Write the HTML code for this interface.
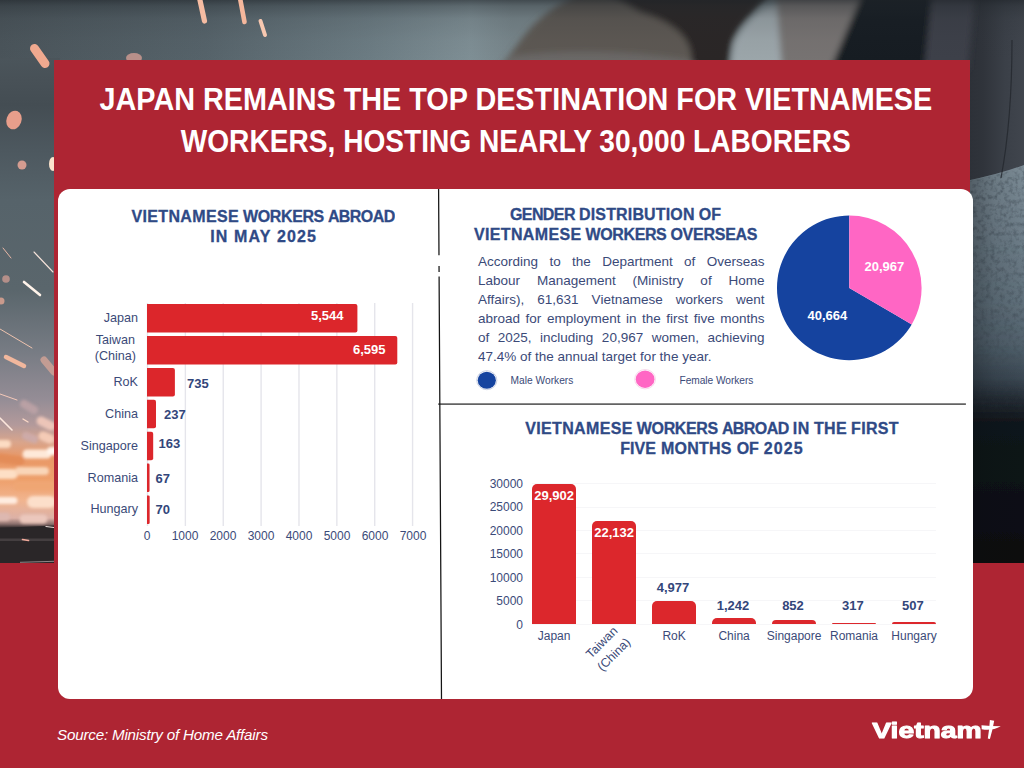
<!DOCTYPE html>
<html lang="en">
<head>
<meta charset="utf-8">
<title>Japan remains the top destination for Vietnamese workers</title>
<style>
*{box-sizing:border-box;margin:0;padding:0}
html,body{width:1024px;height:768px;overflow:hidden;background:#3c444a}
body{font-family:"Liberation Sans",sans-serif;position:relative;color:#34487d}
.abs{position:absolute}
.nw{white-space:nowrap}
#bg{position:absolute;left:0;top:0;width:1024px;height:768px}
#band{position:absolute;left:0;top:563px;width:1024px;height:205px;background:#ae2533}
#hdr{position:absolute;left:54.4px;top:60.3px;width:915.6px;height:707.7px;background:#ae2533}
#panel{position:absolute;left:57.6px;top:188.8px;width:915.4px;height:510.2px;background:#fff;border-radius:12px}
h1{position:absolute;left:54px;width:916px;text-align:center;color:#fff;font-weight:bold;font-size:30.7px;line-height:36px;white-space:nowrap}
h1 span{display:inline-block;transform-origin:50% 50%}
h2{position:absolute;text-align:center;font-weight:bold;font-size:16px;line-height:18px;white-space:nowrap;color:#2f4a86;transform:scaleY(1.06);transform-origin:50% 50%;-webkit-text-stroke:0.3px #2f4a86}
.cat{position:absolute;font-size:12px;line-height:14px;color:#3b4a78;white-space:nowrap}
.val{position:absolute;font-size:13px;line-height:15px;font-weight:bold;color:#33467a;white-space:nowrap}
.val.w{color:#fff}
.bar{position:absolute;background:#dc272c}
.grid{position:absolute;background:#e7e7ea}
</style>
</head>
<body>
<svg id="bg" viewBox="0 0 1024 768">
<defs>
<linearGradient id="gL" gradientUnits="userSpaceOnUse" x1="0" y1="58" x2="0" y2="566">
<stop offset="0.0000" stop-color="#4b555b"/><stop offset="0.0433" stop-color="#485157"/><stop offset="0.0925" stop-color="#444d53"/><stop offset="0.1811" stop-color="#4d585f"/><stop offset="0.2795" stop-color="#56636a"/><stop offset="0.4567" stop-color="#5a666c"/><stop offset="0.5748" stop-color="#767b83"/><stop offset="0.6732" stop-color="#958d96"/><stop offset="0.7224" stop-color="#b39a9b"/><stop offset="0.7559" stop-color="#d9a58c"/><stop offset="0.7874" stop-color="#e99867"/><stop offset="0.8307" stop-color="#eea06c"/><stop offset="0.8701" stop-color="#f1b48e"/><stop offset="0.9055" stop-color="#dcb1a6"/><stop offset="0.9173" stop-color="#8a6f6c"/><stop offset="0.9252" stop-color="#2c2729"/><stop offset="1.0000" stop-color="#2a2628"/>
</linearGradient>
<linearGradient id="gT" x1="0" y1="0" x2="1" y2="0">
<stop offset="0" stop-color="#4a545a"/><stop offset="0.2" stop-color="#56636a"/><stop offset="0.36" stop-color="#6c7c83"/><stop offset="0.46" stop-color="#7f8f95"/><stop offset="0.5" stop-color="#77858a"/>
<stop offset="1" stop-color="#77858a"/>
</linearGradient>
<linearGradient id="gTd" x1="0" y1="0" x2="0" y2="1">
<stop offset="0" stop-color="#1e2328" stop-opacity="0.6"/><stop offset="0.1" stop-color="#22282d" stop-opacity="0.36"/><stop offset="0.3" stop-color="#262c31" stop-opacity="0.14"/><stop offset="0.65" stop-color="#2a3036" stop-opacity="0.04"/><stop offset="1" stop-color="#2a3036" stop-opacity="0"/>
</linearGradient>
<linearGradient id="gR" x1="0" y1="0" x2="1" y2="0">
<stop offset="0" stop-color="#2b2f36"/><stop offset="0.35" stop-color="#30343b"/><stop offset="0.7" stop-color="#3b4048"/><stop offset="1" stop-color="#40454d"/>
</linearGradient>
<linearGradient id="gG" gradientUnits="userSpaceOnUse" x1="0" y1="165" x2="0" y2="566">
<stop offset="0.0000" stop-color="#7c8c96"/><stop offset="0.1621" stop-color="#6f7f8a"/><stop offset="0.3367" stop-color="#61717c"/><stop offset="0.4489" stop-color="#51616c"/><stop offset="0.5312" stop-color="#3b4853"/><stop offset="0.5810" stop-color="#252d35"/><stop offset="0.6409" stop-color="#11161b"/><stop offset="1.0000" stop-color="#0a0c0f"/>
</linearGradient>
<filter id="nz" x="0" y="0" width="100%" height="100%"><feTurbulence type="fractalNoise" baseFrequency="0.22" numOctaves="3" seed="7" result="t"/><feColorMatrix in="t" type="matrix" values="0 0 0 0 0.05  0 0 0 0 0.07  0 0 0 0 0.09  0 0 0 -2.2 1.25"/><feComposite in2="SourceGraphic" operator="in"/></filter>
<linearGradient id="gNf" gradientUnits="userSpaceOnUse" x1="0" y1="166" x2="0" y2="420"><stop offset="0" stop-color="#fff" stop-opacity="1"/><stop offset="0.7" stop-color="#fff" stop-opacity="0.8"/><stop offset="1" stop-color="#fff" stop-opacity="0"/></linearGradient>
<linearGradient id="gGx" x1="0" y1="0" x2="1" y2="0"><stop offset="0" stop-color="#0a0d11" stop-opacity="0.38"/><stop offset="0.5" stop-color="#0a0d11" stop-opacity="0.12"/><stop offset="1" stop-color="#0a0d11" stop-opacity="0"/></linearGradient>
<filter id="b1" x="-20%" y="-20%" width="140%" height="140%"><feGaussianBlur stdDeviation="0.7"/></filter>
<filter id="b3" x="-30%" y="-30%" width="160%" height="160%"><feGaussianBlur stdDeviation="3"/></filter>
<filter id="b2" x="-30%" y="-30%" width="160%" height="160%"><feGaussianBlur stdDeviation="1.6"/></filter>
<filter id="b6" x="-30%" y="-30%" width="160%" height="160%"><feGaussianBlur stdDeviation="6"/></filter>
</defs>
<!-- top strip base -->
<rect x="0" y="0" width="1024" height="70" fill="url(#gT)"/>
<!-- left strip -->
<rect x="0" y="58" width="60" height="508" fill="url(#gL)"/>
<rect x="60" y="0" width="140" height="70" fill="#4f5a61" opacity="0.0"/>
<rect x="962" y="0" width="62" height="566" fill="url(#gR)"/>
<!-- arm + right top shapes -->
<g filter="url(#b3)">
<path d="M498 70 L515 48 Q540 10 580 -6 L760 -6 L740 20 Q722 34 728 70 Z" fill="#5d5853"/>
<path d="M610 -6 L770 -6 L745 22 Q728 40 730 70 L690 70 Q700 30 640 12 Z" fill="#2b2826"/>
<path d="M500 70 L512 56 Q600 46 690 60 L700 70 Z" fill="#6a6866"/>
<path d="M730 70 L734 42 Q745 22 764 8 L782 4 L784 70 Z" fill="#9ca6aa"/>
<path d="M776 -6 L864 -6 L832 70 L782 70 Z" fill="#777372"/>
<path d="M862 -6 L934 -6 L926 70 L830 70 Z" fill="#181b21"/>
<path d="M932 -6 L975 -6 L968 70 L924 70 Z" fill="#3c4048"/>
</g>
<rect x="0" y="0" width="1024" height="62" fill="url(#gTd)"/>
<!-- right strip -->
<g filter="url(#b1)">
<path d="M966 181 Q1000 174 1024 165 L1024 566 L966 566 Z" fill="url(#gG)"/>
</g>
<path d="M966 182 Q1000 175 1024 166 L1024 420 L966 420 Z" fill="url(#gNf)" filter="url(#nz)" opacity="0.6"/>
<path d="M966 181 Q1000 174 1024 165 L1024 566 L966 566 Z" fill="url(#gGx)"/>
<path d="M1012 40 Q1012 120 1001 178" stroke="#23272d" stroke-width="1.2" fill="none" opacity="0.8"/>
<!-- sparks -->
<g filter="url(#b1)" stroke-linecap="round" fill="none">
<line x1="34.5" y1="48.5" x2="45" y2="63.5" stroke="#f0a98f" stroke-width="9"/>
<ellipse cx="14" cy="120" rx="7.5" ry="9.5" fill="#e89e8b" transform="rotate(20 14 120)"/>
<circle cx="22" cy="165" r="4.5" fill="#d49c90"/>
<ellipse cx="53" cy="164" rx="4" ry="7" fill="#fbe3cd"/>
<line x1="199.5" y1="-2" x2="204.5" y2="21" stroke="#f6bca2" stroke-width="5.2"/>
<line x1="240" y1="-2" x2="244.5" y2="22" stroke="#f5b79c" stroke-width="4.6"/>
<line x1="260.5" y1="21" x2="265" y2="35" stroke="#f8c8b0" stroke-width="4"/>
<ellipse cx="134" cy="58" rx="8" ry="5" fill="#b9908a"/>
<line x1="3" y1="248" x2="11" y2="258" stroke="#e8b7a6" stroke-width="1"/>
<line x1="34" y1="252" x2="53" y2="272" stroke="#f6e3da" stroke-width="1.1"/>
<line x1="24" y1="282" x2="40" y2="295" stroke="#fff3ea" stroke-width="2.6"/>
<circle cx="6" cy="279" r="3.8" fill="#b48f89"/>
<circle cx="1" cy="301" r="3.5" fill="#c99a8c"/>
<line x1="0" y1="329" x2="32" y2="348" stroke="#eec3ae" stroke-width="1"/>
<line x1="6" y1="357" x2="24" y2="366" stroke="#f1b79d" stroke-width="4.5"/>
<line x1="44" y1="360" x2="54" y2="372" stroke="#cfa195" stroke-width="7" opacity="0.85"/>
<line x1="0" y1="394" x2="17" y2="400" stroke="#f4c8b8" stroke-width="1"/>
<line x1="0" y1="418" x2="12" y2="430" stroke="#fde7dc" stroke-width="1.6"/>
<line x1="23" y1="419" x2="28" y2="422" stroke="#fbd9c8" stroke-width="1.4"/>
</g>
<g filter="url(#b2)" stroke-linecap="round">
<line x1="41" y1="421" x2="51" y2="426" stroke="#ecc5b8" stroke-width="9"/>
<line x1="43" y1="436" x2="50" y2="439" stroke="#f4cbb6" stroke-width="9"/>
<line x1="26" y1="436" x2="34" y2="439" stroke="#cdaaa8" stroke-width="8"/>
<line x1="24" y1="404" x2="34" y2="410" stroke="#b9a0a4" stroke-width="8"/>
<line x1="-4" y1="444" x2="7" y2="444" stroke="#fcdcc3" stroke-width="8"/>
<line x1="27" y1="454" x2="47" y2="454" stroke="#fee9d9" stroke-width="9"/>
<line x1="51" y1="451" x2="56" y2="451" stroke="#fff6ee" stroke-width="8"/>
<line x1="0" y1="458" x2="20" y2="461" stroke="#e38c58" stroke-width="9"/>
<line x1="-2" y1="474" x2="13" y2="474" stroke="#fddfc5" stroke-width="10"/>
<line x1="19" y1="471" x2="45" y2="471" stroke="#f9d5b8" stroke-width="8"/>
<line x1="18" y1="486" x2="52" y2="486" stroke="#efa673" stroke-width="9"/>
<line x1="-2" y1="500.5" x2="14" y2="500.5" stroke="#feece0" stroke-width="7"/>
<line x1="33" y1="502" x2="50" y2="502" stroke="#fcdfca" stroke-width="12"/>
<line x1="24" y1="519" x2="43" y2="519" stroke="#ebc7bc" stroke-width="9"/>
<line x1="-2" y1="517" x2="6" y2="517" stroke="#ddb8b0" stroke-width="8"/>
</g>
<path d="M0 528 L56 525.5 L56 567 L0 567 Z" fill="#2a2628"/>
<rect x="0" y="538.5" width="56" height="2.5" fill="#443e40"/>
<line x1="22.5" y1="539.5" x2="28.5" y2="540.5" stroke="#f4ab9c" stroke-width="1.6" stroke-linecap="round"/>
<line x1="46" y1="526.5" x2="54" y2="527.5" stroke="#e8dcd8" stroke-width="1.2" stroke-linecap="round"/>
<line x1="20" y1="562.3" x2="54" y2="561.3" stroke="#8f8687" stroke-width="1"/>
</svg>
<div id="band"></div>
<div id="hdr"></div>
<h1 style="top:81.5px;left:57.6px"><span style="transform:scaleX(0.938)">JAPAN REMAINS THE TOP DESTINATION FOR VIETNAMESE</span></h1>
<h1 style="top:123.5px;left:57.7px"><span style="transform:scaleX(0.916)">WORKERS, HOSTING NEARLY 30,000 LABORERS</span></h1>
<div id="panel"></div>

<!-- dividers -->
<svg class="abs" id="dividers" style="left:430px;top:185px" width="545" height="520" viewBox="430 185 545 520">
<line x1="438.2" y1="404.1" x2="965.9" y2="404.1" stroke="#636363" stroke-width="1.7"/>
<path d="M438.6 189 L438.98 255.2 M439.04 266 L439.08 272 M439.1 276.6 L441.5 699" stroke="#141414" stroke-width="1.25" fill="none"/>
</svg>

<!-- LEFT CHART -->
<h2 style="left:113px;width:300px;top:207.7px;word-spacing:-0.5px"><span style="letter-spacing:0.36px">VIETNAMESE</span> <span style="letter-spacing:-0.37px">WORKERS</span> <span style="letter-spacing:-0.58px">ABROAD</span></h2>
<h2 style="left:113.7px;width:300px;top:227.5px;letter-spacing:1.15px">IN MAY 2025</h2>
<svg class="abs" id="lbars" style="left:140px;top:300px" width="280" height="230" viewBox="140 300 280 230" fill="#dc262b">
<line x1="147.50" y1="303" x2="147.50" y2="526" stroke="#e5e5eb" stroke-width="1.4"/>
<line x1="185.37" y1="303" x2="185.37" y2="526" stroke="#e5e5eb" stroke-width="1.4"/>
<line x1="223.24" y1="303" x2="223.24" y2="526" stroke="#e5e5eb" stroke-width="1.4"/>
<line x1="261.11" y1="303" x2="261.11" y2="526" stroke="#e5e5eb" stroke-width="1.4"/>
<line x1="298.98" y1="303" x2="298.98" y2="526" stroke="#e5e5eb" stroke-width="1.4"/>
<line x1="336.85" y1="303" x2="336.85" y2="526" stroke="#e5e5eb" stroke-width="1.4"/>
<line x1="374.72" y1="303" x2="374.72" y2="526" stroke="#e5e5eb" stroke-width="1.4"/>
<line x1="412.59" y1="303" x2="412.59" y2="526" stroke="#e5e5eb" stroke-width="1.4"/>
<path d="M147 304.1 H355.40 Q357.40 304.1 357.40 306.1 V330.6 Q357.40 332.6 355.40 332.6 H147 Z"/>
<path d="M147 336.0 H395.29 Q397.29 336.0 397.29 338.0 V362.5 Q397.29 364.5 395.29 364.5 H147 Z"/>
<path d="M147 367.9 H172.89 Q174.89 367.9 174.89 369.9 V394.4 Q174.89 396.4 172.89 396.4 H147 Z"/>
<path d="M147 399.8 H153.99 Q155.99 399.8 155.99 401.8 V426.3 Q155.99 428.3 153.99 428.3 H147 Z"/>
<path d="M147 431.7 H151.19 Q153.19 431.7 153.19 433.7 V458.2 Q153.19 460.2 151.19 460.2 H147 Z"/>
<path d="M147 463.6 H148.27 Q149.54 463.6 149.54 464.9 V490.8 Q149.54 492.1 148.27 492.1 H147 Z"/>
<path d="M147 495.5 H148.33 Q149.66 495.5 149.66 496.8 V522.7 Q149.66 524.0 148.33 524.0 H147 Z"/>
</svg>

<div class="cat" style="right:886px;top:311px;font-size:12.6px">Japan</div>
<div class="cat" style="right:888px;top:331.5px;text-align:center;line-height:16.7px;font-size:12.6px">Taiwan<br>(China)</div>
<div class="cat" style="right:886px;top:375px;font-size:12.6px">RoK</div>
<div class="cat" style="right:886px;top:407px;font-size:12.6px">China</div>
<div class="cat" style="right:886px;top:439px;font-size:12.6px">Singapore</div>
<div class="cat" style="right:886px;top:471px;font-size:12.6px">Romania</div>
<div class="cat" style="right:886px;top:502px;font-size:12.6px">Hungary</div>

<div class="val w" style="left:311px;top:308px">5,544</div>
<div class="val w" style="left:353px;top:342px">6,595</div>
<div class="val" style="left:187px;top:376px">735</div>
<div class="val" style="left:164px;top:407px">237</div>
<div class="val" style="left:158.5px;top:436px">163</div>
<div class="val" style="left:155.5px;top:471px">67</div>
<div class="val" style="left:155.5px;top:502px">70</div>

<div class="cat" style="left:127px;width:40px;text-align:center;top:529px">0</div>
<div class="cat" style="left:165px;width:40px;text-align:center;top:529px">1000</div>
<div class="cat" style="left:203px;width:40px;text-align:center;top:529px">2000</div>
<div class="cat" style="left:241px;width:40px;text-align:center;top:529px">3000</div>
<div class="cat" style="left:279px;width:40px;text-align:center;top:529px">4000</div>
<div class="cat" style="left:317px;width:40px;text-align:center;top:529px">5000</div>
<div class="cat" style="left:355px;width:40px;text-align:center;top:529px">6000</div>
<div class="cat" style="left:393px;width:40px;text-align:center;top:529px">7000</div>

<!-- GENDER SECTION -->
<h2 style="left:465.4px;width:300px;top:205.9px;word-spacing:-0.3px"><span style="letter-spacing:-0.6px">GENDER</span> <span style="letter-spacing:0.16px">DISTRIBUTION</span> <span style="letter-spacing:-0.15px">OF</span></h2>
<h2 style="left:465.6px;width:300px;top:226.2px;word-spacing:-0.5px"><span style="letter-spacing:0.36px">VIETNAMESE</span> <span style="letter-spacing:-0.37px">WORKERS</span> <span style="letter-spacing:-0.25px">OVERSEAS</span></h2>
<p id="para" class="abs" style="left:478px;top:253px;width:286.5px;font-size:13.5px;line-height:18.9px;color:#3b4a78;text-align:justify;text-align-last:justify;white-space:nowrap">According to the Department of Overseas<br>Labour Management (Ministry of Home<br>Affairs), 61,631 Vietnamese workers went<br>abroad for employment in the first five months<br>of 2025, including 20,967 women, achieving<br><span style="display:inline-block;text-align-last:left">47.4% of the annual target for the year.</span></p>
<svg class="abs" style="left:474px;top:368px" width="26" height="24" viewBox="474 368 26 24"><ellipse cx="486.8" cy="380.2" rx="10.1" ry="9.5" fill="#fff" stroke="#c5cce0" stroke-width="0.9"/><ellipse cx="486.8" cy="380.2" rx="9.1" ry="8.55" fill="#15439f"/></svg>
<div class="abs nw" style="left:510.5px;top:374.5px;font-size:10.2px;line-height:12px;color:#3b4a78;letter-spacing:0.02px">Male Workers</div>
<svg class="abs" style="left:632px;top:367px" width="26" height="24" viewBox="632 367 26 24"><ellipse cx="645.1" cy="379.2" rx="10.4" ry="9.7" fill="#fff" stroke="#f6d5e9" stroke-width="0.9"/><ellipse cx="645.1" cy="379.2" rx="9.4" ry="8.7" fill="#ff66c4"/></svg>
<div class="abs nw" style="left:679.5px;top:374.5px;font-size:10.2px;line-height:12px;color:#3b4a78;letter-spacing:-0.05px">Female Workers</div>
<svg class="abs" style="left:770px;top:205px" width="160" height="165" viewBox="770 205 160 165">
<path d="M849.3 287.9 L911.72 324.38 A72.3 72.3 0 1 1 849.3 215.59999999999997 Z" fill="#15439f"/>
<path d="M849.3 287.9 L849.3 215.59999999999997 A72.3 72.3 0 0 1 911.72 324.38 Z" fill="#ff66c4"/>
</svg>
<div class="val w" style="left:864.5px;top:258.7px">20,967</div>
<div class="val w" style="left:807.5px;top:307.7px">40,664</div>

<!-- BOTTOM RIGHT CHART -->
<h2 style="left:512px;width:400px;top:419.6px;word-spacing:-0.4px"><span style="letter-spacing:0.36px">VIETNAMESE</span> <span style="letter-spacing:-0.37px">WORKERS</span> <span style="letter-spacing:-0.58px">ABROAD</span> <span style="letter-spacing:0.6px">IN</span> <span style="letter-spacing:0.37px">THE</span> <span style="letter-spacing:0.3px">FIRST</span></h2>
<h2 style="left:512px;width:400px;top:440.0px;word-spacing:0.5px"><span style="letter-spacing:0.08px">FIVE</span> <span style="letter-spacing:0.23px">MONTHS</span> <span style="letter-spacing:0px">OF</span> <span style="letter-spacing:1.1px">2025</span></h2>
<div class="grid" style="left:532px;top:623.7px;width:404px;height:1px;background:#f6f6f8"></div>
<div class="cat" style="right:501px;top:617.5px">0</div>
<div class="grid" style="left:532px;top:600.3px;width:404px;height:1px;background:#f6f6f8"></div>
<div class="cat" style="right:501px;top:594.1px">5000</div>
<div class="grid" style="left:532px;top:576.8px;width:404px;height:1px;background:#f6f6f8"></div>
<div class="cat" style="right:501px;top:570.6px">10000</div>
<div class="grid" style="left:532px;top:553.4px;width:404px;height:1px;background:#f6f6f8"></div>
<div class="cat" style="right:501px;top:547.2px">15000</div>
<div class="grid" style="left:532px;top:530.0px;width:404px;height:1px;background:#f6f6f8"></div>
<div class="cat" style="right:501px;top:523.8px">20000</div>
<div class="grid" style="left:532px;top:506.5px;width:404px;height:1px;background:#f6f6f8"></div>
<div class="cat" style="right:501px;top:500.3px">25000</div>
<div class="grid" style="left:532px;top:483.1px;width:404px;height:1px;background:#f6f6f8"></div>
<div class="cat" style="right:501px;top:476.9px">30000</div>
<div class="bar" style="left:532.0px;top:484.1px;width:44.3px;height:140.1px;border-radius:5.0px 5.0px 0 0"></div>
<div class="cat" style="left:514.1px;width:80px;text-align:center;top:628.5px">Japan</div>
<div class="val w" style="left:514.1px;width:80px;text-align:center;top:487.8px">29,902</div>
<div class="bar" style="left:592.0px;top:520.5px;width:44.3px;height:103.7px;border-radius:5.0px 5.0px 0 0"></div>
<div class="cat" style="left:567.6px;width:80px;text-align:center;top:631.8px;line-height:16.7px;font-size:12.4px;transform:rotate(-45deg);transform-origin:50% 50%">Taiwan<br>(China)</div>
<div class="val w" style="left:574.1px;width:80px;text-align:center;top:525.4px">22,132</div>
<div class="bar" style="left:652.0px;top:600.9px;width:44.3px;height:23.3px;border-radius:5.0px 5.0px 0 0"></div>
<div class="cat" style="left:634.1px;width:80px;text-align:center;top:628.5px">RoK</div>
<div class="val" style="left:633.0px;width:80px;text-align:center;top:580.2px">4,977</div>
<div class="bar" style="left:711.9px;top:618.4px;width:44.3px;height:5.8px;border-radius:5.0px 5.0px 0 0"></div>
<div class="cat" style="left:694.1px;width:80px;text-align:center;top:628.5px">China</div>
<div class="val" style="left:693.0px;width:80px;text-align:center;top:597.7px">1,242</div>
<div class="bar" style="left:771.9px;top:620.2px;width:44.3px;height:4.0px;border-radius:4.0px 4.0px 0 0"></div>
<div class="cat" style="left:754.1px;width:80px;text-align:center;top:628.5px">Singapore</div>
<div class="val" style="left:753.0px;width:80px;text-align:center;top:598.2px">852</div>
<div class="bar" style="left:831.9px;top:622.7px;width:44.3px;height:1.5px;border-radius:1.5px 1.5px 0 0"></div>
<div class="cat" style="left:814.0px;width:80px;text-align:center;top:628.5px">Romania</div>
<div class="val" style="left:812.9px;width:80px;text-align:center;top:598.2px">317</div>
<div class="bar" style="left:891.9px;top:621.8px;width:44.3px;height:2.4px;border-radius:2.4px 2.4px 0 0"></div>
<div class="cat" style="left:874.0px;width:80px;text-align:center;top:628.5px">Hungary</div>
<div class="val" style="left:872.9px;width:80px;text-align:center;top:598.2px">507</div>

<!-- FOOTER -->
<div class="abs nw" id="src" style="left:57px;top:725.8px;font-size:15.2px;line-height:17px;font-style:italic;color:#fff;letter-spacing:-0.2px">Source: Ministry of Home Affairs</div>
<svg class="abs" id="logo" style="left:866px;top:712px" width="140" height="36" viewBox="866 712 140 36">
<text x="872.2" y="737.5" font-family="Liberation Sans, sans-serif" font-weight="bold" font-size="21.8" fill="#fff" stroke="#fff" stroke-width="1.0" stroke-linejoin="round" textLength="109.6" lengthAdjust="spacingAndGlyphs">Vietnam</text>
<path d="M989.9 719.9 L994.2 720.7 Q992.6 730 989.9 739 L987.8 738.4 Q989.4 729 989.9 719.9 Z" fill="#fff"/>
<path d="M981.5 725.3 L981.7 729.2 Q992 731.2 1000.8 726.2 Q991 726.2 981.5 725.3 Z" fill="#fff"/>
</svg>
</body>
</html>
